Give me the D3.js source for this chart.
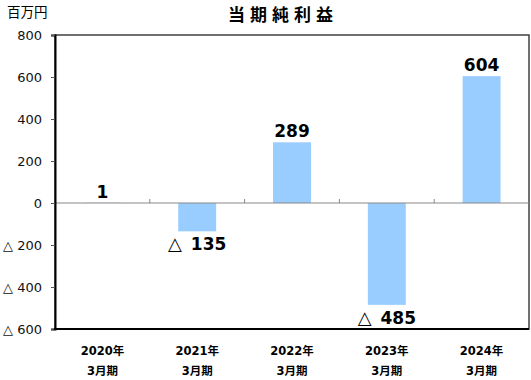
<!DOCTYPE html>
<html>
<head>
<meta charset="utf-8">
<script src="https://cdn.jsdelivr.net/npm/d3@7"></script>
<style>
  body { margin: 0; background: #fff; }
  text { font-family: "DejaVu Sans", "Noto Sans CJK JP", sans-serif; }
</style>
</head>
<body>
<div id="chart"></div>
<script>
// Data
const years = ['2020年', '2021年', '2022年', '2023年', '2024年']
const periods = ['3月期', '3月期', '3月期', '3月期', '3月期']
const profits = [1, -135, 289, -485, 604]
const yTicks = [-600, -400, -200, 0, 200, 400, 600, 800]

// canvas
const width = 531,
      height = 380,
      plotLeft = 55,
      plotRight = 529,
      plotTop = 35,
      plotBottom = 329

const svg = d3.select('#chart')
  .append('svg')
  .attr('width', width)
  .attr('height', height)

const fmt = v => v < 0 ? '△ ' + Math.abs(v) : String(v)

const x = d3.scaleBand()
  .domain(years)
  .range([plotLeft, plotRight])
  .paddingInner(0.6)
  .paddingOuter(0.3)

const y = d3.scaleLinear()
  .domain([-600, 800])
  .range([plotBottom, plotTop])

// title + unit
svg.append('text')
  .attr('x', 283).attr('y', 21)
  .attr('text-anchor', 'middle')
  .attr('font-size', 17).attr('font-weight', 'bold')
  .attr('letter-spacing', 5)
  .text('当期純利益')

svg.append('text')
  .attr('x', 7).attr('y', 17)
  .attr('font-size', 13.5)
  .text('百万円')

// plot frame
svg.append('rect')
  .attr('x', plotLeft).attr('y', plotTop)
  .attr('width', plotRight - plotLeft).attr('height', plotBottom - plotTop)
  .attr('fill', 'none')
  .attr('stroke', '#404040')
  .attr('stroke-width', 1.5)

// bars
svg.selectAll('rect.bar')
  .data(profits)
  .enter()
  .append('rect')
  .attr('class', 'bar')
  .attr('x', (d, i) => x(years[i]))
  .attr('width', x.bandwidth())
  .attr('y', d => y(Math.max(d, 0)))
  .attr('height', d => Math.abs(y(d) - y(0)))
  .attr('fill', '#99ccff')

// zero line with category separators
svg.append('line')
  .attr('x1', plotLeft).attr('x2', plotRight)
  .attr('y1', y(0)).attr('y2', y(0))
  .attr('stroke', '#888').attr('stroke-width', 1)

const step = x.step()
svg.selectAll('line.sep')
  .data(d3.range(1, years.length))
  .enter()
  .append('line')
  .attr('class', 'sep')
  .attr('x1', i => x(years[0]) - x.paddingOuter() * step + i * step)
  .attr('x2', i => x(years[0]) - x.paddingOuter() * step + i * step)
  .attr('y1', y(0)).attr('y2', y(0) - 4)
  .attr('stroke', '#888')

// y axis
const yAxis = d3.axisLeft(y)
  .tickValues(yTicks)
  .tickFormat(fmt)
  .tickSize(4)
  .tickPadding(9)

const ya = svg.append('g')
  .attr('transform', `translate(${plotLeft},0)`)
  .call(yAxis)
ya.select('.domain').attr('stroke', '#000').attr('stroke-width', 2)
ya.selectAll('.tick line').attr('stroke', '#555')
ya.selectAll('.tick text')
  .attr('font-size', 13)
  .attr('font-family', '"DejaVu Sans", "Noto Sans CJK JP", sans-serif')
  .attr('fill', '#111')

// bottom axis line
svg.append('line')
  .attr('x1', plotLeft - 1).attr('x2', plotRight)
  .attr('y1', plotBottom).attr('y2', plotBottom)
  .attr('stroke', '#000').attr('stroke-width', 2)

// category labels
const cat = svg.selectAll('g.cat')
  .data(years)
  .enter()
  .append('g')
  .attr('class', 'cat')
  .attr('transform', d => `translate(${x(d) + x.bandwidth() / 2},0)`)
cat.append('text')
  .attr('y', 355)
  .attr('text-anchor', 'middle')
  .attr('font-size', 11.5).attr('font-weight', 'bold')
  .text(d => d)
cat.append('text')
  .attr('y', 375)
  .attr('text-anchor', 'middle')
  .attr('font-size', 11.5).attr('font-weight', 'bold')
  .text((d, i) => periods[i])

// value labels
const lab = svg.selectAll('text.val')
  .data(profits)
  .enter()
  .append('text')
  .attr('class', 'val')
  .attr('x', (d, i) => x(years[i]) + x.bandwidth() / 2)
  .attr('y', d => d >= 0 ? y(d) - 5 : y(d) + 19)
  .attr('text-anchor', 'middle')
  .attr('font-size', 17)
  .attr('font-weight', 'bold')
lab.filter(d => d < 0).append('tspan')
  .attr('font-weight', 'normal')
  .attr('font-size', 18)
  .text('△')
lab.append('tspan')
  .attr('dx', d => d < 0 ? 9 : 0)
  .text(d => Math.abs(d))
</script>
</body>
</html>
